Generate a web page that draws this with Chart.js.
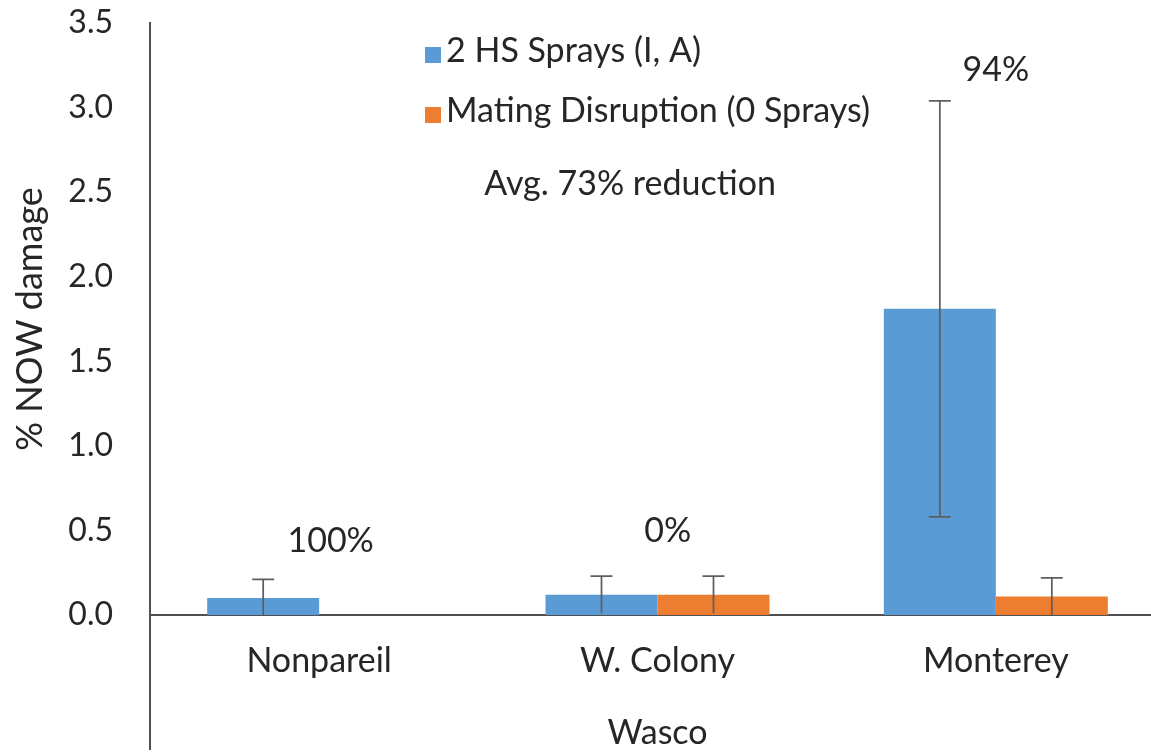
<!DOCTYPE html>
<html>
<head>
<meta charset="utf-8">
<title>% NOW damage – Wasco</title>
<script src="https://cdn.jsdelivr.net/npm/chart.js@4.4.1/dist/chart.umd.min.js"></script>
<style>
  html, body { margin: 0; padding: 0; background: #fff; overflow: hidden; }
  canvas { display: block; }
</style>
</head>
<body>
<canvas id="chart" width="1165" height="753"></canvas>
<script>
// ---- data ----
const categories = ['Nonpareil', 'W. Colony', 'Monterey'];
const sprayLabel = '2 HS Sprays (I, A)';
const disruptionLabel = 'Mating Disruption (0 Sprays)';
const sprayValues = [0.10, 0.12, 1.81];
const sprayErrors = [0.11, 0.11, 1.23];
const disruptionValues = [0, 0.12, 0.11];
const disruptionErrors = [null, 0.11, 0.11];
const yTicks = [0, 0.5, 1.0, 1.5, 2.0, 2.5, 3.0, 3.5];
const yTitle = '% NOW damage';
const xTitle = 'Wasco';
const avgNote = 'Avg. 73% reduction';

// ---- styling ----
const FONT_FAMILY = 'Lato, "Open Sans", sans-serif';
const FONT_SIZE = 34;
const TICK_SIZE = 32;
const Y_TITLE_SIZE = 36;
const TEXT_COLOR = '#262626';
const AXIS_COLOR = '#505050';
const ERR_COLOR = '#5e5e5e';
const BLUE = '#5B9BD5';
const ORANGE = '#ED7D31';

// reduction of damage under mating disruption relative to sprays
const reductions = sprayValues.map((s, i) =>
  Math.round((s - disruptionValues[i]) / s * 100) + '%');

// where the free-standing notes sit: category index offset and y value
const notePlacement = [
  { dx: 0.034, y: 0.372 },
  { dx: 0.030, y: 0.431 },
  { dx: 0.000, y: 3.157 }
];
const avgPlacement = { x: 0.919, y: 2.483 };

const overlay = {
  id: 'overlay',
  afterDatasetsDraw(chart) {
    const { ctx, scales: { y } } = chart;
    const zeroPx = y.getPixelForValue(0);
    ctx.save();
    ctx.strokeStyle = ERR_COLOR;
    ctx.lineWidth = 1.75;
    const cap = 11;
    chart.data.datasets.forEach((ds, di) => {
      const meta = chart.getDatasetMeta(di);
      ds.errors.forEach((e, i) => {
        if (e == null) return;
        const bx = meta.data[i].x;
        const v = ds.data[i];
        const top = y.getPixelForValue(v + e);
        const lowVal = v - e;
        const bot = lowVal > 0 ? y.getPixelForValue(lowVal) : zeroPx;
        ctx.beginPath();
        ctx.moveTo(bx, top); ctx.lineTo(bx, bot);
        ctx.moveTo(bx - cap, top); ctx.lineTo(bx + cap, top);
        if (zeroPx - bot > 3) { ctx.moveTo(bx - cap, bot); ctx.lineTo(bx + cap, bot); }
        ctx.stroke();
      });
    });
    ctx.restore();
  },
  afterDraw(chart) {
    const { ctx, chartArea, scales: { x, y } } = chart;
    ctx.save();
    // the value axis continues down past the category labels
    ctx.strokeStyle = AXIS_COLOR;
    ctx.lineWidth = 2;
    ctx.beginPath();
    ctx.moveTo(chartArea.left, chartArea.bottom);
    ctx.lineTo(chartArea.left, chart.height - 3);
    ctx.stroke();

    ctx.font = `${FONT_SIZE}px ${FONT_FAMILY}`;
    ctx.fillStyle = TEXT_COLOR;
    ctx.textBaseline = 'alphabetic';

    // legend
    const lx = 425, rows = [62, 122];
    chart.data.datasets.forEach((ds, i) => {
      ctx.fillStyle = ds.backgroundColor;
      ctx.fillRect(lx, rows[i] - 15, 16, 16);
      ctx.fillStyle = TEXT_COLOR;
      ctx.textAlign = 'left';
      ctx.fillText(ds.label, lx + 21, rows[i]);
    });

    // reduction notes above each orchard
    ctx.textAlign = 'center';
    reductions.forEach((txt, i) => {
      const p = notePlacement[i];
      ctx.fillText(txt, x.getPixelForValue(i + p.dx), y.getPixelForValue(p.y));
    });
    ctx.fillText(avgNote, x.getPixelForValue(avgPlacement.x), y.getPixelForValue(avgPlacement.y));
    ctx.restore();
  }
};

function draw() {
  new Chart(document.getElementById('chart'), {
    type: 'bar',
    data: {
      labels: categories,
      datasets: [
        { label: sprayLabel, data: sprayValues, errors: sprayErrors,
          backgroundColor: BLUE, borderWidth: 0 },
        { label: disruptionLabel, data: disruptionValues, errors: disruptionErrors,
          backgroundColor: ORANGE, borderWidth: 0 }
      ]
    },
    options: {
      responsive: false,
      animation: false,
      devicePixelRatio: 1,
      categoryPercentage: 0.662,
      barPercentage: 1.0,
      layout: { padding: { top: 23, right: 0, bottom: 0, left: 0 } },
      plugins: { legend: { display: false }, tooltip: { enabled: false } },
      font: { family: FONT_FAMILY },
      scales: {
        x: {
          z: 1,
          grid: { display: false, drawTicks: false },
          border: { display: true, color: AXIS_COLOR, width: 2 },
          ticks: { color: TEXT_COLOR, padding: 26, font: { family: FONT_FAMILY, size: FONT_SIZE } },
          title: { display: true, text: xTitle, color: TEXT_COLOR,
                   padding: { top: 0, bottom: 0 },
                   font: { family: FONT_FAMILY, size: FONT_SIZE } },
          afterFit(s) { s.height = 138; s.paddingLeft = 0; s.paddingRight = 0; }
        },
        y: {
          min: 0, max: 3.5,
          grid: { display: false, drawTicks: false },
          border: { display: true, color: AXIS_COLOR, width: 2 },
          afterBuildTicks(s) { s.ticks = yTicks.map(v => ({ value: v })); },
          ticks: { color: TEXT_COLOR, padding: 37,
                   font: { family: FONT_FAMILY, size: TICK_SIZE },
                   callback: v => Number(v).toFixed(1) },
          title: { display: true, text: yTitle, color: TEXT_COLOR,
                   padding: { top: 9, bottom: 0 },
                   font: { family: FONT_FAMILY, size: Y_TITLE_SIZE } },
          afterFit(s) { s.width = 150; s.paddingTop = 0; s.paddingBottom = 0; }
        }
      }
    },
    plugins: [overlay]
  });
}

if (document.fonts && document.fonts.load) {
  document.fonts.load(`${FONT_SIZE}px Lato`).then(draw, draw);
} else {
  draw();
}
</script>
</body>
</html>
